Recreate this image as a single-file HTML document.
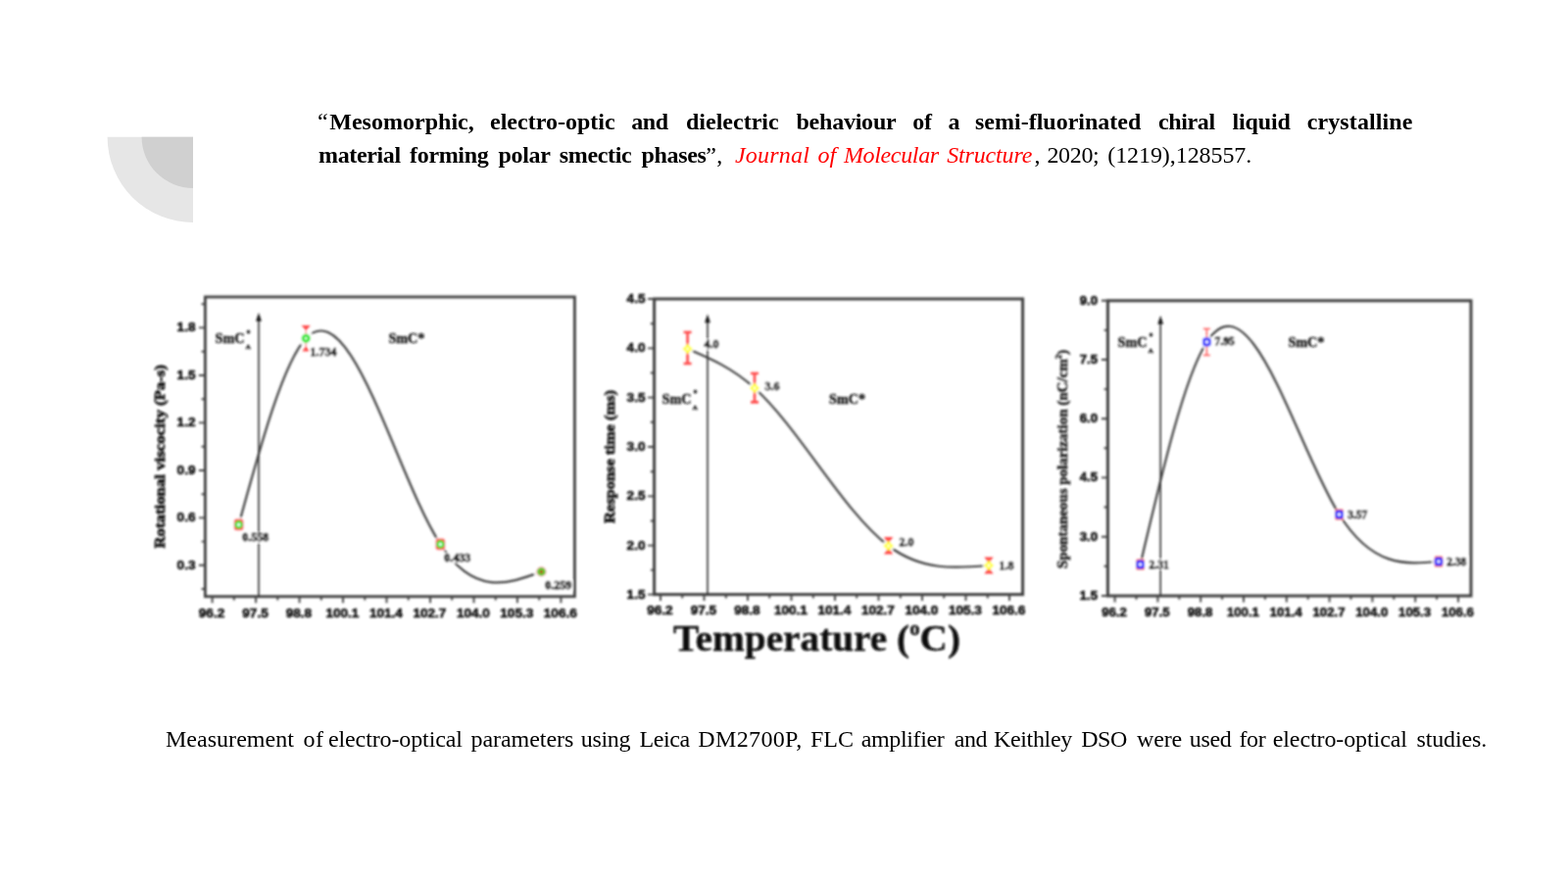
<!DOCTYPE html>
<html lang="en">
<head>
<meta charset="utf-8">
<title>Slide</title>
<style>
html,body{margin:0;padding:0;background:#fff;}
body{width:1600px;height:900px;position:relative;overflow:hidden;font-family:"Liberation Serif","Times New Roman",serif;color:#000;}
svg{position:absolute;left:0;top:0;}
.w{position:absolute;white-space:nowrap;font-size:24px;line-height:30px;height:30px;}
.b{font-weight:bold;}
.i{font-style:italic;color:#ff0000;}
svg text{font-family:"Liberation Serif","Times New Roman",serif;font-weight:bold;fill:#1a1a1a;}
svg text.s{font-family:"Liberation Sans",Arial,sans-serif;stroke:#151515;stroke-width:0.6px;fill:#151515;}
svg text.v{stroke:#111;stroke-width:0.7px;fill:#111;}
svg text.v3{fill:#1c1c1c;stroke:#1c1c1c;stroke-width:0.5px;}
svg text.m{stroke:#1a1a1a;stroke-width:0.4px;}
svg text.t{stroke:#0a0a0a;stroke-width:0.3px;fill:#0a0a0a;}
svg text.k{stroke:#151515;stroke-width:0.75px;fill:#151515;}
</style>
</head>
<body>
<svg width="1600" height="900" viewBox="0 0 1600 900">
  <path d="M197 139.7 H109.6 A87.4 87.3 0 0 0 197 227 Z" fill="#e6e6e6"/>
  <path d="M197 139.7 H144.6 A52.4 52.2 0 0 0 197 191.9 Z" fill="#d0d0d0"/>
</svg>
<div class="title">
<span class="w" style="left:324.00px;top:108.90px;letter-spacing:0.000px">“</span>
<span class="w b" style="left:336.25px;top:108.90px;letter-spacing:0.018px">Mesomorphic,</span>
<span class="w b" style="left:500.00px;top:108.90px;letter-spacing:0.014px">electro-optic</span>
<span class="w b" style="left:644.18px;top:108.90px;letter-spacing:-0.350px">and</span>
<span class="w b" style="left:700.00px;top:108.90px;letter-spacing:0.005px">dielectric</span>
<span class="w b" style="left:812.50px;top:108.90px;letter-spacing:-0.233px">behaviour</span>
<span class="w b" style="left:931.25px;top:108.90px;letter-spacing:-0.250px">of</span>
<span class="w b" style="left:967.50px;top:108.90px;letter-spacing:0.000px">a</span>
<span class="w b" style="left:995.00px;top:108.90px;letter-spacing:0.002px">semi-fluorinated</span>
<span class="w b" style="left:1181.96px;top:108.90px;letter-spacing:-0.350px">chiral</span>
<span class="w b" style="left:1257.50px;top:108.90px;letter-spacing:-0.140px">liquid</span>
<span class="w b" style="left:1333.75px;top:108.90px;letter-spacing:0.101px">crystalline</span>


<span class="w b" style="left:325.00px;top:142.80px;letter-spacing:-0.350px">material</span>
<span class="w b" style="left:418.10px;top:142.80px;letter-spacing:-0.350px">forming</span>
<span class="w b" style="left:508.57px;top:142.80px;letter-spacing:-0.350px">polar</span>
<span class="w b" style="left:570.75px;top:142.80px;letter-spacing:-0.341px">smectic</span>
<span class="w b" style="left:654.53px;top:142.80px;letter-spacing:-0.350px">phases</span>
<span class="w" style="left:720.25px;top:142.80px;letter-spacing:0.348px">”,</span>
<span class="w i" style="left:750.00px;top:142.80px;letter-spacing:0.210px">Journal</span>
<span class="w i" style="left:834.50px;top:142.80px;letter-spacing:0.000px">of</span>
<span class="w i" style="left:860.96px;top:142.80px;letter-spacing:-0.350px">Molecular</span>
<span class="w i" style="left:966.25px;top:142.80px;letter-spacing:-0.160px">Structure</span>
<span class="w" style="left:1055.50px;top:142.80px;letter-spacing:0.000px">,</span>
<span class="w" style="left:1068.45px;top:142.80px;letter-spacing:-0.350px">2020;</span>
<span class="w" style="left:1130.25px;top:142.80px;letter-spacing:-0.076px">(1219),128557.</span>
</div>
<div class="caption">
<span class="w" style="left:169.00px;top:738.80px;letter-spacing:0.025px">Measurement</span>
<span class="w" style="left:309.57px;top:738.80px;letter-spacing:0.350px">of</span>
<span class="w" style="left:335.00px;top:738.80px;letter-spacing:-0.119px">electro-optical</span>
<span class="w" style="left:480.50px;top:738.80px;letter-spacing:-0.048px">parameters</span>
<span class="w" style="left:592.82px;top:738.80px;letter-spacing:-0.350px">using</span>
<span class="w" style="left:652.38px;top:738.80px;letter-spacing:-0.350px">Leica</span>
<span class="w" style="left:712.35px;top:738.80px;letter-spacing:0.350px">DM2700P,</span>
<span class="w" style="left:827.00px;top:738.80px;letter-spacing:-0.004px">FLC</span>
<span class="w" style="left:878.67px;top:738.80px;letter-spacing:-0.350px">amplifier</span>
<span class="w" style="left:973.65px;top:738.80px;letter-spacing:-0.350px">and</span>
<span class="w" style="left:1014.03px;top:738.80px;letter-spacing:-0.350px">Keithley</span>
<span class="w" style="left:1103.14px;top:738.80px;letter-spacing:-0.350px">DSO</span>
<span class="w" style="left:1160.00px;top:738.80px;letter-spacing:-0.159px">were</span>
<span class="w" style="left:1213.75px;top:738.80px;letter-spacing:-0.331px">used</span>
<span class="w" style="left:1264.48px;top:738.80px;letter-spacing:-0.350px">for</span>
<span class="w" style="left:1298.75px;top:738.80px;letter-spacing:-0.101px">electro-optical</span>
<span class="w" style="left:1445.50px;top:738.80px;letter-spacing:-0.131px">studies.</span>
</div>
<svg width="1600" height="900" viewBox="0 0 1600 900">
<defs><filter id="bl" x="0" y="0" width="1600" height="900" filterUnits="userSpaceOnUse"><feGaussianBlur stdDeviation="1.0"/></filter><filter id="bl2" x="0" y="0" width="1600" height="900" filterUnits="userSpaceOnUse"><feGaussianBlur stdDeviation="0.9"/></filter></defs>
<g filter="url(#bl)">
<rect x="209.4" y="303.0" width="377.0" height="305.7" fill="none" stroke="#404040" stroke-width="2.8"/>
<text class="s" x="216.0" y="630.3" font-size="13.6" text-anchor="middle">96.2</text>
<text class="s" x="260.5" y="630.3" font-size="13.6" text-anchor="middle">97.5</text>
<text class="s" x="304.9" y="630.3" font-size="13.6" text-anchor="middle">98.8</text>
<text class="s" x="349.4" y="630.3" font-size="13.6" text-anchor="middle">100.1</text>
<text class="s" x="393.9" y="630.3" font-size="13.6" text-anchor="middle">101.4</text>
<text class="s" x="438.4" y="630.3" font-size="13.6" text-anchor="middle">102.7</text>
<text class="s" x="482.9" y="630.3" font-size="13.6" text-anchor="middle">104.0</text>
<text class="s" x="527.3" y="630.3" font-size="13.6" text-anchor="middle">105.3</text>
<text class="s" x="571.8" y="630.3" font-size="13.6" text-anchor="middle">106.6</text>
<text class="s" x="199.5" y="338.3" font-size="13.6" text-anchor="end">1.8</text>
<text class="s" x="199.5" y="386.9" font-size="13.6" text-anchor="end">1.5</text>
<text class="s" x="199.5" y="435.3" font-size="13.6" text-anchor="end">1.2</text>
<text class="s" x="199.5" y="483.9" font-size="13.6" text-anchor="end">0.9</text>
<text class="s" x="199.5" y="532.3" font-size="13.6" text-anchor="end">0.6</text>
<text class="s" x="199.5" y="580.7" font-size="13.6" text-anchor="end">0.3</text>
<path d="M216.6 608.7 v6.5 M238.8 608.7 v3.8 M261.1 608.7 v6.5 M283.3 608.7 v3.8 M305.6 608.7 v6.5 M327.8 608.7 v3.8 M350.0 608.7 v6.5 M372.3 608.7 v3.8 M394.5 608.7 v6.5 M416.7 608.7 v3.8 M439.0 608.7 v6.5 M461.2 608.7 v3.8 M483.5 608.7 v6.5 M505.7 608.7 v3.8 M527.9 608.7 v6.5 M550.2 608.7 v3.8 M572.4 608.7 v6.5 M209.4 334.4 h-6.5 M209.4 383.0 h-6.5 M209.4 431.4 h-6.5 M209.4 480.0 h-6.5 M209.4 528.4 h-6.5 M209.4 576.8 h-6.5 M209.4 310.2 h-3.8 M209.4 358.7 h-3.8 M209.4 407.2 h-3.8 M209.4 455.7 h-3.8 M209.4 504.2 h-3.8 M209.4 552.6 h-3.8 M209.4 601.0 h-3.8 " stroke="#404040" stroke-width="1.9" fill="none"/>
<path d="M243.60 535.40 C266.47 452.40 289.33 369.39 312.20 345.30 C357.93 297.12 403.67 484.58 449.40 555.40 C483.73 608.56 518.07 595.98 552.40 583.40" stroke="#404040" stroke-width="2.2" fill="none"/><circle cx="243.6" cy="535.4" r="7.6" fill="#fff"/><circle cx="312.2" cy="345.3" r="7.6" fill="#fff"/><circle cx="449.4" cy="555.4" r="7.6" fill="#fff"/><circle cx="552.4" cy="583.4" r="7.6" fill="#fff"/>
<path d="M264.0 608.4 V324.0" stroke="#303030" stroke-width="1.6" fill="none"/>
<path d="M264.0 319.0 l-2.9 8.8 h5.8 z" fill="#151515"/>
<rect x="315.6" y="354.0" width="29.0" height="10.5" fill="#fff"/><text class="k" x="316.6" y="363.0" font-size="12">1.734</text>
<rect x="246.2" y="543.4" width="29.0" height="10.5" fill="#fff"/><text class="k" x="247.2" y="552.4" font-size="12">0.558</text>
<rect x="452.2" y="564.0" width="29.0" height="10.5" fill="#fff"/><text class="k" x="453.2" y="573.0" font-size="12">0.433</text>
<rect x="555.2" y="592.0" width="29.0" height="10.5" fill="#fff"/><text class="k" x="556.2" y="601.0" font-size="12">0.259</text>
<rect x="238.8" y="529.6" width="9.6" height="11.6" rx="2.5" fill="#ff4a4a"/>
<circle cx="243.6" cy="535.4" r="2.9" fill="#f4fff4" stroke="#33e633" stroke-width="2.6"/>
<path d="M312.2 334 V357" stroke="#ff8080" stroke-width="1.3"/>
<path d="M307.6 332.0 h9.2 l-4.6 5.2 z" fill="#ff4a4a"/>
<path d="M308.4 358.5 h7.6 l-3.8 -5.2 z" fill="#ff4a4a"/>
<circle cx="312.2" cy="345.3" r="3.0" fill="#e8ffe8" stroke="#33e633" stroke-width="3.2"/>
<rect x="444.6" y="549.6" width="9.6" height="11.6" rx="2.5" fill="#ff4a4a"/>
<circle cx="449.4" cy="555.4" r="2.9" fill="#f4fff4" stroke="#33e633" stroke-width="2.6"/>
<circle cx="552.4" cy="583.4" r="4.9" fill="#ff4a4a"/>
<circle cx="552.4" cy="583.4" r="3.1" fill="#b83a20" stroke="#33e633" stroke-width="2.2"/>
<text class="m" x="219.6" y="350.2" font-size="14.2">SmC</text><text class="m" x="250.8" y="356.2" font-size="7">A</text><text class="m" x="251.4" y="342.6" font-size="8">*</text>
<text class="m" x="396.4" y="350.2" font-size="14.2">SmC*</text>
<text class="v" transform="translate(167.8 465.8) rotate(-90)" font-size="15.2" text-anchor="middle" textLength="187.5" lengthAdjust="spacingAndGlyphs">Rotational viscocity (Pa-s)</text>
<rect x="667.6" y="305.0" width="376.0" height="301.6" fill="none" stroke="#404040" stroke-width="3.0"/>
<text class="s" x="673.4" y="627.0" font-size="13.6" text-anchor="middle">96.2</text>
<text class="s" x="717.9" y="627.0" font-size="13.6" text-anchor="middle">97.5</text>
<text class="s" x="762.4" y="627.0" font-size="13.6" text-anchor="middle">98.8</text>
<text class="s" x="806.9" y="627.0" font-size="13.6" text-anchor="middle">100.1</text>
<text class="s" x="851.4" y="627.0" font-size="13.6" text-anchor="middle">101.4</text>
<text class="s" x="895.9" y="627.0" font-size="13.6" text-anchor="middle">102.7</text>
<text class="s" x="940.4" y="627.0" font-size="13.6" text-anchor="middle">104.0</text>
<text class="s" x="984.9" y="627.0" font-size="13.6" text-anchor="middle">105.3</text>
<text class="s" x="1029.4" y="627.0" font-size="13.6" text-anchor="middle">106.6</text>
<text class="s" x="658.5" y="308.9" font-size="13.6" text-anchor="end">4.5</text>
<text class="s" x="658.5" y="359.3" font-size="13.6" text-anchor="end">4.0</text>
<text class="s" x="658.5" y="409.5" font-size="13.6" text-anchor="end">3.5</text>
<text class="s" x="658.5" y="459.9" font-size="13.6" text-anchor="end">3.0</text>
<text class="s" x="658.5" y="510.3" font-size="13.6" text-anchor="end">2.5</text>
<text class="s" x="658.5" y="560.5" font-size="13.6" text-anchor="end">2.0</text>
<text class="s" x="658.5" y="610.5" font-size="13.6" text-anchor="end">1.5</text>
<path d="M674.0 606.6 v6.5 M696.2 606.6 v3.8 M718.5 606.6 v6.5 M740.8 606.6 v3.8 M763.0 606.6 v6.5 M785.2 606.6 v3.8 M807.5 606.6 v6.5 M829.8 606.6 v3.8 M852.0 606.6 v6.5 M874.2 606.6 v3.8 M896.5 606.6 v6.5 M918.8 606.6 v3.8 M941.0 606.6 v6.5 M963.2 606.6 v3.8 M985.5 606.6 v6.5 M1007.8 606.6 v3.8 M1030.0 606.6 v6.5 M667.6 305.0 h-6.5 M667.6 355.4 h-6.5 M667.6 405.6 h-6.5 M667.6 456.0 h-6.5 M667.6 506.4 h-6.5 M667.6 556.6 h-6.5 M667.6 606.6 h-6.5 M667.6 330.2 h-3.8 M667.6 380.5 h-3.8 M667.6 430.8 h-3.8 M667.6 481.2 h-3.8 M667.6 531.5 h-3.8 M667.6 581.6 h-3.8 " stroke="#404040" stroke-width="1.9" fill="none"/>
<path d="M701.60 356.00 C724.40 365.66 747.20 375.31 770.00 396.00 C815.53 437.32 861.07 522.64 906.60 557.00 C940.73 582.76 974.87 579.88 1009.00 577.00" stroke="#404040" stroke-width="2.2" fill="none"/><circle cx="701.6" cy="356.0" r="5.8" fill="#fff"/><circle cx="770.0" cy="396.0" r="5.8" fill="#fff"/><circle cx="906.6" cy="557.0" r="5.8" fill="#fff"/><circle cx="1009.0" cy="577.0" r="5.8" fill="#fff"/>
<path d="M722.0 606.6 V325.4" stroke="#303030" stroke-width="1.6" fill="none"/>
<path d="M722.0 320.4 l-2.9 8.8 h5.8 z" fill="#151515"/>
<rect x="717.5" y="346.2" width="17.0" height="10.5" fill="#fff"/><text class="k" x="718.5" y="355.2" font-size="12">4.0</text>
<rect x="779.5" y="388.8" width="17.0" height="10.5" fill="#fff"/><text class="k" x="780.5" y="397.8" font-size="12">3.6</text>
<rect x="916.5" y="547.6" width="17.0" height="10.5" fill="#fff"/><text class="k" x="917.5" y="556.6" font-size="12">2.0</text>
<rect x="1018.5" y="571.8" width="17.0" height="10.5" fill="#fff"/><text class="k" x="1019.5" y="580.8" font-size="12">1.8</text>
<path d="M701.6 339.0 V371.0 M697.6 339.0 h8 M697.6 371.0 h8" stroke="#ff4a4a" stroke-width="2.6" fill="none"/>
<path d="M701.6 350.8 l5.2 5.2 l-5.2 5.2 l-5.2 -5.2 z" fill="#ffff38"/>
<circle cx="701.6" cy="356.0" r="1.3" fill="#fffff0"/>
<path d="M770.0 381.0 V410.4 M766.0 381.0 h8 M766.0 410.4 h8" stroke="#ff4a4a" stroke-width="2.6" fill="none"/>
<path d="M770.0 390.8 l5.2 5.2 l-5.2 5.2 l-5.2 -5.2 z" fill="#ffff38"/>
<circle cx="770.0" cy="396.0" r="1.3" fill="#fffff0"/>
<path d="M902.0 548.0 h9.2 l-4.6 7.0 z" fill="#ff4a4a"/>
<path d="M902.0 565.5 h9.2 l-4.6 -7.0 z" fill="#ff4a4a"/>
<path d="M906.6 551.8 l5.2 5.2 l-5.2 5.2 l-5.2 -5.2 z" fill="#ffff38"/>
<circle cx="906.6" cy="557.0" r="1.3" fill="#fffff0"/>
<path d="M1004.4 568.5 h9.2 l-4.6 7.0 z" fill="#ff4a4a"/>
<path d="M1004.4 585.5 h9.2 l-4.6 -7.0 z" fill="#ff4a4a"/>
<path d="M1009.0 571.8 l5.2 5.2 l-5.2 5.2 l-5.2 -5.2 z" fill="#ffff38"/>
<circle cx="1009.0" cy="577.0" r="1.3" fill="#fffff0"/>
<text class="m" x="675.6" y="411.6" font-size="14.2">SmC</text><text class="m" x="706.8" y="417.6" font-size="7">A</text><text class="m" x="707.4" y="404.0" font-size="8">*</text>
<text class="m" x="846.0" y="411.6" font-size="14.2">SmC*</text>
<text class="v" transform="translate(627.2 466.0) rotate(-90)" font-size="15.6" text-anchor="middle" textLength="136.0" lengthAdjust="spacingAndGlyphs">Response time (ms)</text>
<rect x="1130.4" y="306.8" width="370.6" height="301.2" fill="none" stroke="#404040" stroke-width="3.0"/>
<text class="s" x="1137.0" y="628.9" font-size="13.2" text-anchor="middle">96.2</text>
<text class="s" x="1180.8" y="628.9" font-size="13.2" text-anchor="middle">97.5</text>
<text class="s" x="1224.6" y="628.9" font-size="13.2" text-anchor="middle">98.8</text>
<text class="s" x="1268.4" y="628.9" font-size="13.2" text-anchor="middle">100.1</text>
<text class="s" x="1312.2" y="628.9" font-size="13.2" text-anchor="middle">101.4</text>
<text class="s" x="1356.0" y="628.9" font-size="13.2" text-anchor="middle">102.7</text>
<text class="s" x="1399.8" y="628.9" font-size="13.2" text-anchor="middle">104.0</text>
<text class="s" x="1443.6" y="628.9" font-size="13.2" text-anchor="middle">105.3</text>
<text class="s" x="1487.4" y="628.9" font-size="13.2" text-anchor="middle">106.6</text>
<text class="s" x="1120.0" y="310.7" font-size="13.2" text-anchor="end">9.0</text>
<text class="s" x="1120.0" y="370.9" font-size="13.2" text-anchor="end">7.5</text>
<text class="s" x="1120.0" y="431.1" font-size="13.2" text-anchor="end">6.0</text>
<text class="s" x="1120.0" y="491.3" font-size="13.2" text-anchor="end">4.5</text>
<text class="s" x="1120.0" y="551.6" font-size="13.2" text-anchor="end">3.0</text>
<text class="s" x="1120.0" y="611.9" font-size="13.2" text-anchor="end">1.5</text>
<path d="M1137.6 608.0 v6.5 M1159.5 608.0 v3.8 M1181.4 608.0 v6.5 M1203.3 608.0 v3.8 M1225.2 608.0 v6.5 M1247.1 608.0 v3.8 M1269.0 608.0 v6.5 M1290.9 608.0 v3.8 M1312.8 608.0 v6.5 M1334.7 608.0 v3.8 M1356.6 608.0 v6.5 M1378.5 608.0 v3.8 M1400.4 608.0 v6.5 M1422.3 608.0 v3.8 M1444.2 608.0 v6.5 M1466.1 608.0 v3.8 M1488.0 608.0 v6.5 M1130.4 306.8 h-6.5 M1130.4 367.0 h-6.5 M1130.4 427.2 h-6.5 M1130.4 487.4 h-6.5 M1130.4 547.7 h-6.5 M1130.4 608.0 h-6.5 M1130.4 336.9 h-3.8 M1130.4 397.1 h-3.8 M1130.4 457.3 h-3.8 M1130.4 517.5 h-3.8 M1130.4 577.8 h-3.8 " stroke="#404040" stroke-width="1.9" fill="none"/>
<path d="M1163.60 576.00 C1186.20 479.95 1208.80 383.90 1231.40 349.00 C1276.47 279.40 1321.53 452.93 1366.60 525.00 C1400.40 579.05 1434.20 576.03 1468.00 573.00" stroke="#404040" stroke-width="2.2" fill="none"/><circle cx="1163.6" cy="576.0" r="6.6" fill="#fff"/><circle cx="1231.4" cy="349.0" r="6.6" fill="#fff"/><circle cx="1366.6" cy="525.0" r="6.6" fill="#fff"/><circle cx="1468.0" cy="573.0" r="6.6" fill="#fff"/>
<path d="M1184.2 608.0 V327.0" stroke="#303030" stroke-width="1.6" fill="none"/>
<path d="M1184.2 322.0 l-2.9 8.8 h5.8 z" fill="#151515"/>
<rect x="1238.5" y="343.4" width="22.5" height="10.5" fill="#fff"/><text class="k" x="1239.5" y="352.4" font-size="11.5">7.95</text>
<rect x="1171.6" y="570.6" width="22.5" height="10.5" fill="#fff"/><text class="k" x="1172.6" y="579.6" font-size="11.5">2.31</text>
<rect x="1374.2" y="520.0" width="22.5" height="10.5" fill="#fff"/><text class="k" x="1375.2" y="529.0" font-size="11.5">3.57</text>
<rect x="1475.2" y="567.8" width="22.5" height="10.5" fill="#fff"/><text class="k" x="1476.2" y="576.8" font-size="11.5">2.38</text>
<rect x="1159.3" y="570.5" width="8.6" height="11" rx="1.5" fill="#ff4a4a"/>
<rect x="1160.6" y="573.0" width="6" height="6" rx="1.8" fill="#f0f0ff" stroke="#3030ff" stroke-width="2.8"/>
<path d="M1231.4 335.6 V362.4 M1227.9 335.6 h7 M1227.9 362.4 h7" stroke="#ff5a5a" stroke-width="1.5" fill="none"/>
<rect x="1228.4" y="346.0" width="6" height="6" rx="1.8" fill="#f0f0ff" stroke="#3030ff" stroke-width="2.8"/>
<rect x="1362.3" y="519.5" width="8.6" height="11" rx="1.5" fill="#ff4a4a"/>
<rect x="1363.6" y="522.0" width="6" height="6" rx="1.8" fill="#f0f0ff" stroke="#3030ff" stroke-width="2.8"/>
<rect x="1463.7" y="567.5" width="8.6" height="11" rx="1.5" fill="#ff4a4a"/>
<rect x="1465.0" y="570.0" width="6" height="6" rx="1.8" fill="#f0f0ff" stroke="#3030ff" stroke-width="2.8"/>
<text class="m" x="1140.6" y="354.0" font-size="14.2">SmC</text><text class="m" x="1171.8" y="360.0" font-size="7">A</text><text class="m" x="1172.4" y="346.4" font-size="8">*</text>
<text class="m" x="1314.4" y="354.0" font-size="14.2">SmC*</text>
<text class="v3" transform="translate(1089.0 468.5) rotate(-90)" font-size="15.5" text-anchor="middle" textLength="223.0" lengthAdjust="spacingAndGlyphs">Spontaneous polarization (nC/cm<tspan font-size="9" dy="-6">2</tspan><tspan dy="6">)</tspan></text>
</g>
<g filter="url(#bl2)">
<text class="t" x="687" y="664.2" font-size="38" textLength="293" lengthAdjust="spacingAndGlyphs">Temperature (<tspan font-size="20" dy="-16.5">o</tspan><tspan dy="16.5">C)</tspan></text>
</g>
</svg>
</body>
</html>
